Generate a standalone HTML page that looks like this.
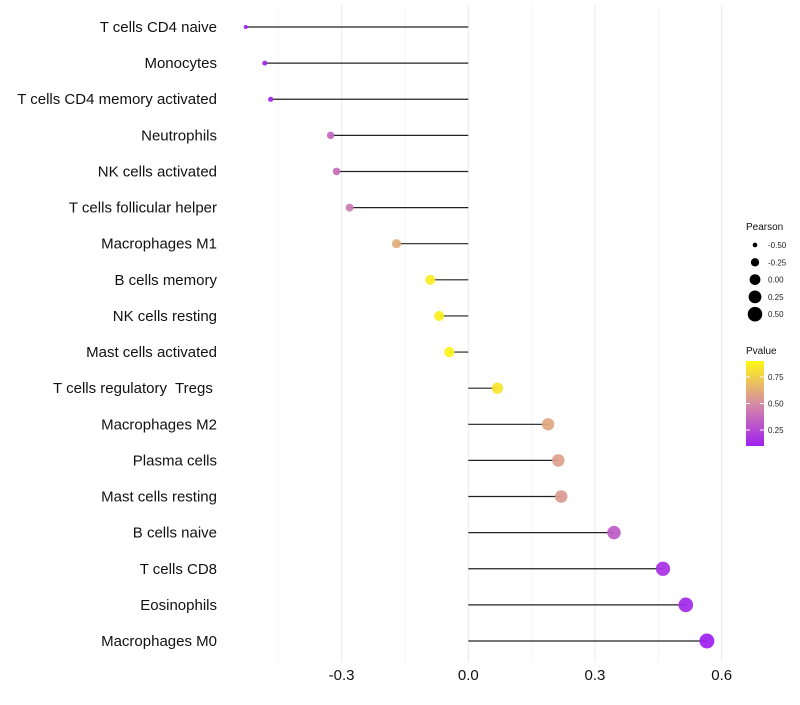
<!DOCTYPE html>
<html><head><meta charset="utf-8"><style>
body{margin:0;background:#fff;font-family:"Liberation Sans",sans-serif}
svg text{font-family:"Liberation Sans",sans-serif;white-space:pre}
</style></head><body>
<svg id="c" width="800" height="700"></svg>
<script>
const categories=["T cells CD4 naive","Monocytes","T cells CD4 memory activated","Neutrophils","NK cells activated","T cells follicular helper","Macrophages M1","B cells memory","NK cells resting","Mast cells activated","T cells regulatory  Tregs ","Macrophages M2","Plasma cells","Mast cells resting","B cells naive","T cells CD8","Eosinophils","Macrophages M0"];
const pearson=[-0.527,-0.482,-0.468,-0.326,-0.312,-0.281,-0.170,-0.090,-0.069,-0.045,0.069,0.189,0.213,0.220,0.345,0.461,0.515,0.565];
const pvalue=[0.10,0.12,0.13,0.36,0.38,0.43,0.62,0.86,0.87,0.88,0.83,0.60,0.57,0.55,0.32,0.16,0.13,0.10];
const xTicks=[-0.3,0.0,0.3,0.6];
const xTickLabels=["-0.3","0.0","0.3","0.6"];
const xMinor=[-0.45,-0.15,0.15,0.45];
const sizeLegend=[-0.5,-0.25,0,0.25,0.5];
const sizeLegendLabels=["-0.50","-0.25","0.00","0.25","0.50"];
const colorTicks=[0.25,0.5,0.75];
const colorTickLabels=["0.25","0.50","0.75"];

const NS="http://www.w3.org/2000/svg",svg=document.getElementById('c');
function mk(t,a,p){const e=document.createElementNS(NS,t);for(const k in a)e.setAttribute(k,a[k]);(p||svg).appendChild(e);return e;}
const x=v=>468.3+v*422.3;
const y=i=>27+i*(614/17);
const r=v=>Math.sqrt(Math.max(1,4+(v+0.53)*47.5));
function lerp(a,b,t){return a.map((c,i)=>Math.round(c+(b[i]-c)*t));}
function col(p){const s=[[0.1,[160,32,240]],[0.5,[214,140,164]],[0.9,[255,248,20]]];
 p=Math.max(0.1,Math.min(0.9,p));for(let i=0;i<2;i++){if(p<=s[i+1][0]){const c=lerp(s[i][1],s[i+1][1],(p-s[i][0])/(s[i+1][0]-s[i][0]));return `rgb(${c})`;}}}
const grid=mk('g',{});
xTicks.forEach(v=>{const l=mk('line',{x1:x(v),x2:x(v),y1:5,y2:662,stroke:'#ebebeb','stroke-width':1},grid);});
xMinor.forEach(v=>{const l=mk('line',{x1:x(v),x2:x(v),y1:5,y2:662,stroke:'#f3f3f3','stroke-width':0.8},grid);});
xTicks.forEach((v,i)=>{const t=mk('text',{x:x(v),y:680,'text-anchor':'middle','font-size':15,fill:'#111'});t.textContent=xTickLabels[i];});
categories.forEach((c,i)=>{
 const t=mk('text',{x:217,y:y(i)+5,'text-anchor':'end','font-size':15,fill:'#111'});t.textContent=c;
 
 const l=mk('line',{x1:x(0),x2:x(pearson[i]),y1:y(i),y2:y(i),stroke:'#222','stroke-width':1.2});
 
 const d=mk('circle',{cx:x(pearson[i]),cy:y(i),r:r(pearson[i]),fill:col(pvalue[i]),'fill-opacity':0.92});
 
});
const lg=mk('g',{});
const lt=mk('text',{x:746,y:230,'font-size':10,fill:'#111'},lg);lt.textContent='Pearson';
sizeLegend.forEach((v,i)=>{const cy=245+i*17.3;const c=mk('circle',{cx:755,cy:cy,r:r(v),fill:'#000'},lg);
 const t=mk('text',{x:768,y:cy+3,'font-size':8,fill:'#222'},lg);t.textContent=sizeLegendLabels[i];});
const cg=mk('g',{});
const ct=mk('text',{x:746,y:354,'font-size':10,fill:'#111'},cg);ct.textContent='Pvalue';
const defs=mk('defs',{});const gr=mk('linearGradient',{id:'pg',x1:0,y1:1,x2:0,y2:0},defs);
[0,0.25,0.5,0.75,1].forEach(o=>mk('stop',{offset:o,'stop-color':col(0.1+o*0.8)},gr));
const bar=mk('rect',{x:746,y:361,width:18,height:85,fill:'url(#pg)'},cg);
const py=p=>446-(p-0.1)*(85/0.8);
colorTicks.forEach((v,i)=>{mk('line',{x1:746,x2:750,y1:py(v),y2:py(v),stroke:'#fff'},cg);mk('line',{x1:760,x2:764,y1:py(v),y2:py(v),stroke:'#fff'},cg);
 const t=mk('text',{x:768,y:py(v)+3,'font-size':8,fill:'#222'},cg);t.textContent=colorTickLabels[i];});
</script>
</body></html>
